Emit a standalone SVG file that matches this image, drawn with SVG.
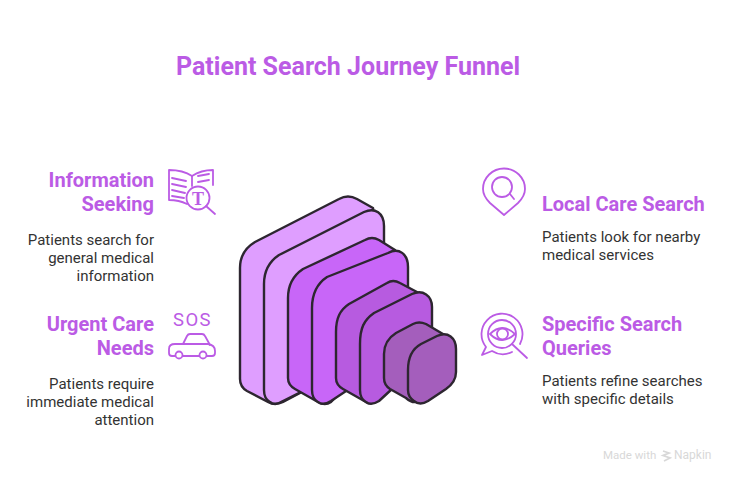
<svg xmlns="http://www.w3.org/2000/svg" width="732" height="480" viewBox="0 0 732 480">
<style>
text{font-family:Roboto,"Liberation Sans",sans-serif}
.t{font-size:25px;font-weight:700;fill:#BB5BE5}
.h{font-size:20px;font-weight:700;fill:#BB5BE5}
.b{font-size:15px;fill:#333333}
.e{text-anchor:end}
.p{stroke:#2D2630;stroke-width:2.4;stroke-linejoin:round;stroke-linecap:round}
.i{fill:none;stroke:#BB5BE5;stroke-width:1.800;stroke-linecap:round;stroke-linejoin:round}
</style>
<rect width="732" height="480" fill="#FFFFFF"/>
<text class="t" x="176" y="75">Patient Search Journey Funnel</text>
<g id="funnel">
<g id="level-1" fill="#DF9EFF">
<path class="p" d="M240,268C240,256 245,248 255,242L339,199Q348,194 357,199L373,208L384,300L300,393L283,402Q275,406 268,402L247,391Q240,387 240,379Z"/>
<path class="p" d="M264,284C264,270 270,261 279,255L364,212C375,207 384,213 384,226V350L283,401Q275,406 270,402Q264,399 264,390Z"/>
</g>
<g id="level-2" fill="#C866F8">
<path class="p" d="M288,298C288,284 294,275 303,269L365,240Q372,236 379,240L395,250L408,330L340,393L331,402Q325,406 318,402L295,389Q288,385 288,378Z"/>
<path class="p" d="M312,308C312,294 318,283 327,277L388,253C399,247 408,254 408,267V350L331,401Q323,406 318,402Q312,399 312,390Z"/>
</g>
<g id="level-3" fill="#B75BE0">
<path class="p" d="M336,332C336,318 340,310 349,304L387,283Q393,279 400,283L417,292L432,350L380,398Q372,406 366,402L343,389Q336,385 336,378Z"/>
<path class="p" d="M360,344C360,328 364,320 374,313L412,294C423,289 432,296 432,307V352L379,401Q371,406 366,402Q360,399 360,390Z"/>
</g>
<g id="level-4" fill="#A45EBC">
<path class="p" d="M384,354C384,345 388,338 396,333L413,324Q419,321 426,324L443,334L440,380L420,400Q414,405 406,398L390,389Q384,385 384,378Z"/>
<path class="p" d="M408,370C408,358 412,349 421,344L437,336C448,331 456,338 456,349V372Q456,382 446,389L428,401Q420,406 414,401Q408,397 408,390Z"/>
</g>
</g>
<g id="connectors"></g>
<g id="node-information">
<text class="h e" x="154" y="187">Information</text>
<text class="h e" x="154" y="211">Seeking</text>
<text class="b e" x="154" y="245">Patients search for</text>
<text class="b e" x="154" y="263">general medical</text>
<text class="b e" x="154" y="281">information</text>
<g class="i">
<path d="M192,176C186,172 178,170 169,170V200C175,200 181,201 187,204"/>
<path d="M192,176C198,172 205,170 213,170V185"/>
<path d="M192,176V186"/>
<path d="M172,178L186,181M172,184L186,187M172,190L185,193M172,196L184,198M198,176L209,174M198,182L209,180"/>
<circle cx="198" cy="198" r="11.500"/>
<path d="M206,206L215,214"/>
</g>
<text x="198" y="205" text-anchor="middle" style="font-family:'Liberation Serif',serif;font-size:18px;font-weight:700;fill:#BB5BE5">T</text>
</g>
<g id="node-urgent">
<text class="h e" x="154" y="331">Urgent Care</text>
<text class="h e" x="154" y="355">Needs</text>
<text class="b e" x="154" y="389">Patients require</text>
<text class="b e" x="154" y="407">immediate medical</text>
<text class="b e" x="154" y="425">attention</text>
<text x="192.500" y="326" text-anchor="middle" style="font-size:18.500px;letter-spacing:1.500px;fill:#BB5BE5">SOS</text>
<g class="i">
<path d="M175,356H172Q169,356 169,353V349Q169,344 175,344H208Q215,345 215,351V353Q215,356 212,356H207"/>
<path d="M183,344L187,336Q188,334 190,334H202Q204,334 205,336L210,345"/>
<path d="M183,356H199"/>
<circle cx="179" cy="355" r="3.500"/>
<circle cx="203" cy="355" r="3.500"/>
</g>
</g>
<g id="node-local">
<text class="h" x="542" y="211">Local Care Search</text>
<text class="b" x="542" y="242">Patients look for nearby</text>
<text class="b" x="542" y="260">medical services</text>
<g class="i">
<path d="M504,215L490,203C485,198 483,194 483,189A21,20.500 0 0 1 525,189C525,194 523,198 518,203Z"/>
<circle cx="502" cy="187" r="10"/>
<path d="M510,194L514,199"/>
</g>
</g>
<g id="node-specific">
<text class="h" x="542" y="331">Specific Search</text>
<text class="h" x="542" y="355">Queries</text>
<text class="b" x="542" y="386">Patients refine searches</text>
<text class="b" x="542" y="404">with specific details</text>
<g class="i">
<path d="M520,344A20.500,20.500 0 1 0 486,347L482,355L492,351A20.500,20.500 0 0 0 512,352"/>
<circle cx="502" cy="334" r="14"/>
<path d="M512,344L527,358"/>
<path d="M490,334Q502,322 515,334Q502,346 490,334Z"/>
<circle cx="502.500" cy="334" r="5.500"/>
</g>
</g>
<g id="watermark">
<text x="603" y="459" style="font-size:11.500px;fill:#D8D8D8">Made with</text>
<path d="M663,451L669,453L663,455.500L670,458L664,461" fill="none" stroke="#D8D8D8" stroke-width="1.800"/>
<text x="674" y="459" style="font-size:12px;fill:#D8D8D8">Napkin</text>
</g>
</svg>
